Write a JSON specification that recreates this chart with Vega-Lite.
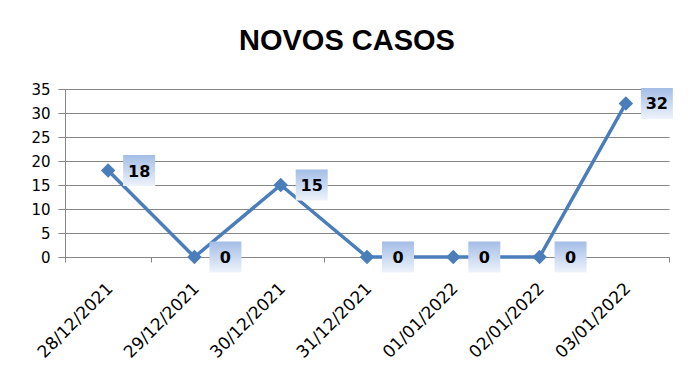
{
  "$schema": "https://vega.github.io/schema/vega-lite/v6.json",
  "autosize": "none",
  "width": 604,
  "height": 168,
  "padding": {"left": 65, "top": 89, "right": 25, "bottom": 134},
  "background": "white",
  "title": {
    "text": "NOVOS CASOS",
    "font": "Liberation Sans",
    "fontSize": 29,
    "fontWeight": "bold",
    "color": "black",
    "anchor": "middle",
    "dx": -20,
    "baseline": "alphabetic",
    "offset": 3
  },
  "data": {
    "values": [
      {"data": "28/12/2021", "casos": 18},
      {"data": "29/12/2021", "casos": 0},
      {"data": "30/12/2021", "casos": 15},
      {"data": "31/12/2021", "casos": 0},
      {"data": "01/01/2022", "casos": 0},
      {"data": "02/01/2022", "casos": 0},
      {"data": "03/01/2022", "casos": 32}
    ]
  },
  "encoding": {
    "x": {
      "field": "data",
      "type": "nominal",
      "sort": null,
      "scale": {"type": "band", "paddingInner": 0, "paddingOuter": 0},
      "axis": {
        "title": null,
        "labelAngle": -45,
        "labelAlign": "right",
        "labelBaseline": "top",
        "labelPadding": 18,
        "labelOffset": -4,
        "labelFont": "DejaVu Sans",
        "labelFontSize": 17,
        "labelColor": "black",
        "tickBand": "extent",
        "tickSize": 5,
        "tickColor": "#868686",
        "domainColor": "#868686",
        "grid": false,
        "labelOverlap": false
      }
    },
    "y": {
      "field": "casos",
      "type": "quantitative",
      "scale": {"domain": [0, 35], "nice": false},
      "axis": {
        "title": null,
        "values": [0, 5, 10, 15, 20, 25, 30, 35],
        "labelFont": "DejaVu Sans",
        "labelFontSize": 15,
        "labelColor": "black",
        "labelPadding": 8,
        "tickSize": 7,
        "tickColor": "#868686",
        "domainColor": "#868686",
        "gridColor": "#868686",
        "gridOpacity": 1
      }
    }
  },
  "layer": [
    {
      "mark": {
        "type": "line",
        "color": "#4a7ebb",
        "strokeWidth": 3.5,
        "point": {"shape": "diamond", "size": 210, "filled": true, "color": "#4a7ebb", "opacity": 1}
      }
    },
    {
      "mark": {
        "type": "point",
        "shape": "M 0.9375 -0.97 L 2.9375 -0.97 L 2.9375 0.97 L 0.9375 0.97 Z",
        "size": 1024,
        "filled": true,
        "opacity": 1,
        "strokeWidth": 0,
        "fill": {
          "gradient": "linear",
          "x1": 0, "y1": 0, "x2": 0, "y2": 1,
          "stops": [
            {"offset": 0, "color": "#a4bde6"},
            {"offset": 1, "color": "#eef3fb"}
          ]
        }
      }
    },
    {
      "mark": {
        "type": "text",
        "dx": 31,
        "dy": 1,
        "align": "center",
        "baseline": "middle",
        "font": "DejaVu Sans",
        "fontSize": 16,
        "fontWeight": "bold",
        "color": "black"
      },
      "encoding": {"text": {"field": "casos", "type": "quantitative"}}
    }
  ],
  "config": {"view": {"stroke": null}}
}
